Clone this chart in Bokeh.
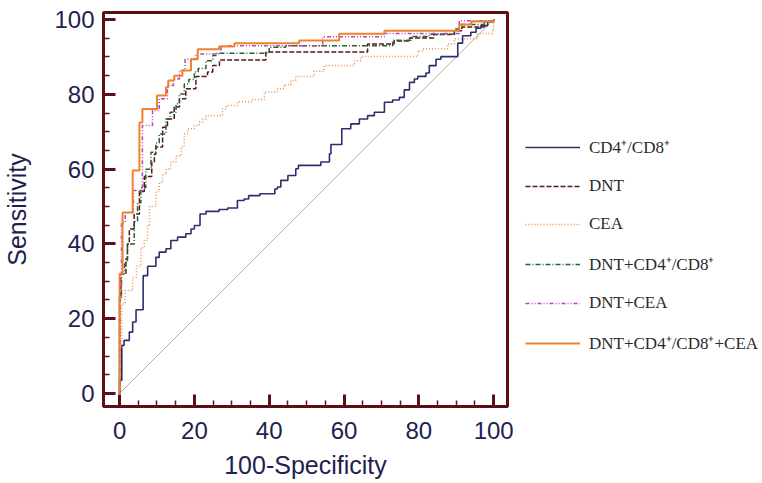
from bokeh.plotting import figure
from bokeh.models import Range1d, Legend, LegendItem, FixedTicker
from bokeh.embed import file_html
from bokeh.resources import INLINE

# ---- data ----
labels = ["CD4\u207a/CD8\u207a", "DNT", "CEA", "DNT+CD4\u207a/CD8\u207a",
          "DNT+CEA", "DNT+CD4\u207a/CD8\u207a+CEA"]

x_cd = [0, 0.6, 1.2, 2.6, 3.5, 4.4, 6.3, 7.5, 9.7, 10.6, 12.4, 13.7, 15.5, 17.7,
        19.1, 20, 21.5, 23.1, 26.6, 28.9, 31.5, 33.3, 34.5, 37.5, 41.5, 42.2,
        43.1, 45, 47.1, 47.8, 53.8, 56.1, 56.5, 59.4, 61.8, 64.1, 66.3, 68.1,
        70.8, 73, 74.8, 76.1, 77.5, 78.8, 79.7, 81.9, 82.8, 84.6, 85.9, 90.4,
        91.7, 93.9, 95.3, 96.6, 98.4, 100]
y_cd = [3.5, 12.8, 14.2, 16.4, 19.1, 22.4, 31.5, 34, 36.4, 37.8, 38.7, 40.9,
        41.8, 42.7, 44, 44.9, 48, 48.7, 49.2, 49.6, 51.6, 52, 52.9, 53.4, 54.7,
        55.2, 57, 58.3, 60.1, 61, 61.9, 64.1, 66.6, 70.8, 72.1, 73.4, 74.3,
        75.2, 77.9, 78.5, 79.2, 81.2, 83.2, 84.1, 84.8, 85.7, 87.7, 89.4, 90.1,
        93.7, 95.7, 96.6, 97.7, 98.4, 99.5, 100]

x_dnt = [0, 0.3, 1.7, 2.1, 2.6, 3.9, 5.3, 6.6, 8.6, 9.3, 9.7, 11.5, 12.8, 14.6,
         16, 17.7, 20.4, 23.5, 24.9, 26.7, 39.1, 66.3, 73.4, 77.5, 84, 89.5,
         91.5, 97.5, 100]
y_dnt = [26, 32, 36, 40, 44, 48, 54, 58, 62, 64, 65.9, 71.2, 73.4, 76.6, 78.8,
         81.5, 84.8, 86, 87.7, 89.2, 91.3, 93.5, 94.3, 95.1, 96, 97, 98, 99.5,
         100]

x_cea = [0, 0.6, 1.5, 3.5, 4.5, 5.7, 6.6, 7.5, 8, 9.7, 10.6, 11.5, 12.5, 13.7,
         15.1, 16.5, 17.3, 18.2, 20, 21.3, 22.2, 23.1, 27.5, 28.5, 31.5, 35.6,
         38.7, 42.2, 44, 45.8, 47.1, 52, 54.7, 62.8, 64.5, 79.7, 81, 87.7, 89.5,
         95.7, 99.7, 100]
y_cea = [12, 24, 27.5, 31, 34, 39, 41, 45, 50, 54, 56.4, 58.6, 60, 62, 63.5, 66,
         69.4, 70.8, 71.7, 72.6, 73.4, 74.3, 76.1, 77, 78, 78.6, 80.6, 81.5,
         82.6, 83.7, 84.8, 86.2, 87.7, 89, 90.1, 91.7, 92.2, 93.5, 94.9, 96.3,
         97.5, 100]

x_dnt_cd = [0, 0.5, 1.3, 2.1, 3.9, 4.8, 5.7, 7, 8.4, 9.7, 10.6, 12.4, 13.5,
            15.1, 16, 17.3, 18.5, 20, 21, 23.1, 24.9, 26, 40, 44.4, 73, 77.9,
            82.8, 89.5, 91.5, 97.5, 100]
y_dnt_cd = [25, 32, 35, 40, 46, 51, 55, 60, 64.5, 67, 69.4, 73.4, 75.2, 77.5,
            80.1, 82.8, 84, 86, 86.9, 89, 90.4, 91, 92.6, 93, 94.5, 95.5, 96.1,
            97.5, 98.7, 99.5, 100]

x_dnt_cea = [0, 0.5, 1.5, 3.7, 6.1, 8.8, 10.6, 12.8, 14.4, 16, 17.5, 20.4,
             27.1, 54.3, 70.8, 90.8, 100]
y_dnt_cea = [26, 45.7, 48.4, 54.3, 71.7, 75.7, 78.8, 82.4, 84.1, 86.4, 89.4,
             90.8, 93, 95.4, 96.3, 99.7, 100]

x_all = [0, 0.8, 3.5, 5.3, 6.1, 10, 12.4, 13, 14.6, 16.8, 19.1, 20.9, 26.6,
         30.7, 48, 58.7, 70.8, 90.8, 94, 100]
y_all = [32, 48.4, 59.6, 72.5, 76.1, 79.7, 81.9, 83.7, 85, 86.4, 89.4, 92.1,
         92.8, 93.7, 94.4, 96.2, 97, 98.7, 99.5, 100]

diag_x = [0, 100]
diag_y = [0, 100]

x_ticks = [0, 20, 40, 60, 80, 100]
y_ticks = [0, 20, 40, 60, 80, 100]
minor = list(range(0, 101, 5))


def stairs(xs, ys):
    assert len(xs) == len(ys)
    px, py = [0.0], [0.0]
    prev = 0.0
    for xv, yv in zip(xs, ys):
        px += [xv, xv]
        py += [prev, yv]
        prev = yv
    return px, py


maroon = "#5e0f15"
navy_txt = "#1f2150"

p = figure(frame_width=404, frame_height=394,
           x_range=Range1d(-4.3, 103.7), y_range=Range1d(-3.5, 101.9),
           output_backend="svg", toolbar_location=None,
           min_border_left=102, min_border_right=10, min_border_top=12,
           min_border_bottom=10, background_fill_color="white",
           border_fill_color="white")

p.xgrid.visible = False
p.ygrid.visible = False
p.outline_line_color = maroon
p.outline_line_width = 3
p.outline_line_alpha = 1

p.line(diag_x, diag_y, line_color="#b0b0b0", line_width=1)

styles = [
    (x_cd, y_cd, "#2c2f6e", None, 1.6),
    (x_dnt, y_dnt, "#5b1522", "5 2", 1.5),
    (x_cea, y_cea, "#e8914d", "1 2", 1.5),
    (x_dnt_cd, y_dnt_cd, "#25602f", "5 2 1 2", 1.5),
    (x_dnt_cea, y_dnt_cea, "#b548b5", "4 2 1 2 1 2", 1.5),
    (x_all, y_all, "#f0822d", None, 2),
]
items = []
for (xs, ys, col, dash, w), lab in zip(styles, labels):
    sx, sy = stairs(xs, ys)
    kw = dict(line_color=col, line_width=w)
    if dash:
        kw["line_dash"] = dash
    r = p.line(sx, sy, **kw)
    items.append(LegendItem(label=lab, renderers=[r]))

for ax, ticks in ((p.xaxis[0], x_ticks), (p.yaxis[0], y_ticks)):
    ax.ticker = FixedTicker(ticks=ticks, minor_ticks=minor)
    ax.axis_line_color = maroon
    ax.axis_line_width = 3
    ax.major_tick_in = 12
    ax.major_tick_out = 0
    ax.major_tick_line_color = maroon
    ax.major_tick_line_width = 3
    ax.minor_tick_in = 6
    ax.minor_tick_out = 0
    ax.minor_tick_line_color = maroon
    ax.minor_tick_line_width = 1.5
    ax.major_label_text_font = "Liberation Sans"
    ax.major_label_text_font_size = "24px"
    ax.major_label_text_color = navy_txt
    ax.axis_label_text_font = "Liberation Sans"
    ax.axis_label_text_font_size = "25px"
    ax.axis_label_text_font_style = "normal"
    ax.axis_label_text_color = navy_txt

p.xaxis.axis_label = "100-Specificity"
p.yaxis.axis_label = "Sensitivity"
p.xaxis.major_label_standoff = 15
p.xaxis.axis_label_standoff = 9
p.yaxis.major_label_standoff = 9
p.yaxis.axis_label_standoff = 20

legend = Legend(items=items, location=(18, 52), orientation="vertical",
                glyph_width=55, glyph_height=20, label_height=20,
                label_standoff=9, spacing=18, padding=0, margin=0,
                border_line_color=None, background_fill_alpha=0,
                label_text_font="Liberation Serif",
                label_text_font_size="17px", label_text_color="#2a2a2a")
p.add_layout(legend, "right")

open("out.html", "w").write(file_html(p, INLINE))
